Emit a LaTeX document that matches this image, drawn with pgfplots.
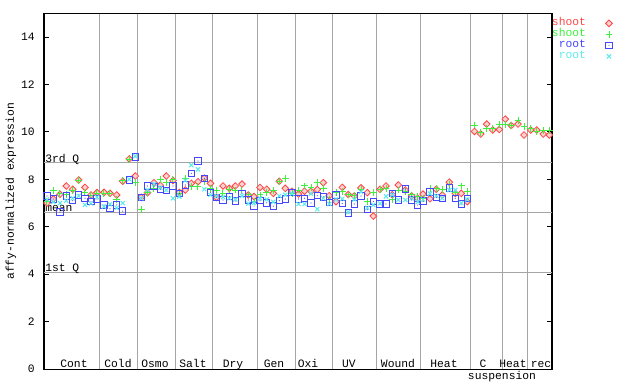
\documentclass[border=0pt]{standalone}
\usepackage{fontspec}
\setmainfont{Liberation Mono}
\usepackage{pgfplots}
\pgfplotsset{compat=1.18}
\usepackage{pgfplotstable}

\definecolor{cr}{RGB}{255,70,70}
\definecolor{cg}{RGB}{60,240,60}
\definecolor{cb}{RGB}{70,70,255}
\definecolor{cc}{RGB}{90,235,235}
\definecolor{gl}{RGB}{165,165,165}

\pgfdeclareplotmark{sqdot}{%
  \pgfpathrectangle{\pgfqpoint{-\pgfplotmarksize}{-\pgfplotmarksize}}{\pgfqpoint{2\pgfplotmarksize}{2\pgfplotmarksize}}%
  \pgfusepathqstroke
  \pgfpathcircle{\pgfpointorigin}{0.45pt}\pgfusepathqfill}
\pgfdeclareplotmark{dia}{%
  \pgfpathmoveto{\pgfqpoint{0pt}{\pgfplotmarksize}}%
  \pgfpathlineto{\pgfqpoint{\pgfplotmarksize}{0pt}}%
  \pgfpathlineto{\pgfqpoint{0pt}{-\pgfplotmarksize}}%
  \pgfpathlineto{\pgfqpoint{-\pgfplotmarksize}{0pt}}%
  \pgfpathclose
  \pgfusepathqfillstroke}

\pgfplotsset{myleg/.style={legend image code/.code={\path[draw=none,fill=none] (0pt,-0.1pt) rectangle (20pt,0.1pt); \path[##1, draw=none] plot coordinates {(17.25pt,0pt)};}}}

\pgfplotstableread{
x r g b c
47 7.00 7.05 7.30 7.15
53.3 7.17 7.52 7.17 7.05
60 7.37 7.40 6.62 7.00
66.3 7.72 7.35 7.30 7.10
72.7 7.58 7.52 7.10 7.20
78.7 7.97 7.97 7.34 7.30
85 7.66 7.44 7.20 6.92
91 7.34 7.30 7.06 6.98
97 7.44 7.42 7.17 7.25
104 7.45 7.41 6.92 6.85
110 7.41 7.41 6.76 6.95
116.7 7.34 7.15 6.92 6.80
122.7 7.92 7.97 6.66 7.00
129.3 8.86 8.84 7.98 8.00
135.3 8.14 7.86 8.95 8.98
141.3 7.24 6.71 7.24 7.20
147.5 7.44 7.45 7.72 7.55
154 7.86 7.60 7.69 7.80
160.3 7.75 8.00 7.58 7.65
166.3 8.14 7.86 7.52 7.55
173 7.95 8.00 7.72 7.20
179.3 7.45 7.40 7.41 7.27
185.3 7.55 8.04 7.76 7.95
191.3 7.83 7.69 8.25 8.60
198 7.90 7.69 8.77 8.42
204.3 8.05 7.90 8.04 7.58
210.5 7.83 7.62 7.44 7.34
216.5 7.24 7.55 7.24 7.30
223 7.72 7.41 7.13 7.25
229.3 7.62 7.58 7.27 7.20
235.3 7.72 7.55 7.09 7.15
242 7.80 7.55 7.41 7.30
248.3 7.34 7.34 7.13 6.98
254 7.27 7.05 6.87 7.00
260 7.66 7.34 7.10 7.20
266.7 7.58 7.45 7.01 7.15
273.3 7.41 7.52 6.87 7.05
279.3 7.92 7.92 7.10 7.30
285.3 7.62 8.03 7.17 7.35
292 7.50 7.40 7.44 7.40
298.5 7.38 7.55 7.17 6.96
304.5 7.50 7.72 7.20 6.96
311 7.50 7.64 7.00 7.40
317.3 7.57 7.85 7.31 6.74
323.3 7.86 7.62 7.26 7.20
329.3 7.31 7.17 7.02 6.96
336 7.06 7.45 7.34 7.15
342.3 7.66 7.49 6.98 7.18
348.3 7.36 7.34 6.58 6.62
354.3 7.30 7.30 6.96 7.15
361 7.64 7.58 7.30 7.47
367.3 7.44 7.06 6.72 6.80
373.3 6.45 7.44 7.06 6.92
380 7.58 7.58 6.96 6.98
386 7.72 7.62 6.96 7.28
392.3 7.35 7.15 7.41 7.35
398.3 7.76 7.55 7.13 7.13
405.3 7.55 7.50 7.59 7.13
411.7 7.30 7.34 7.13 7.20
417.7 7.20 7.27 6.92 7.05
423 7.38 7.20 7.08 7.15
430 7.18 7.62 7.46 7.40
436.3 7.58 7.62 7.24 7.30
442.3 7.34 7.58 7.20 7.20
449.3 7.88 7.80 7.63 7.55
455.3 7.41 7.45 7.20 7.55
461.3 7.41 7.72 6.96 7.00
467.3 7.06 7.48 7.20 7.15
}\main

\pgfplotstableread{
x r g
474.5 10.02 10.29
480.7 9.91 9.97
486.7 10.33 10.15
492.7 10.08 10.15
499.3 10.10 10.33
505.3 10.54 10.33
511.3 10.27 10.27
518 10.33 10.49
524 9.87 10.22
530.7 10.08 10.15
536.7 10.08 10.01
543.3 9.91 10.06
549.3 9.87 10.06
}\susp

\begin{document}
\begin{tikzpicture}[font=\fontsize{8.5}{10}\selectfont]
\begin{axis}[
  scale only axis, width=381pt, height=266.8pt,
  xmin=44, xmax=552, ymin=0, ymax=15,
  axis line style={black, line width=0.8pt},
  /pgf/number format/assume math mode=true,
  ytick={0,2,4,6,8,10,12,14},
  ytick pos=both, yticklabel pos=left,
  tick align=inside, major tick length=3.75pt,
  tick style={black, line width=0.75pt},
  yticklabel style={anchor=east, inner sep=0pt, xshift=-6.75pt},
  xtick={100,138,176,213,257,295,332,376,420,470,502,527},
  xticklabels={}, xmajorgrids,
  major x tick style={draw=none},
  extra y ticks={4.08,6.61,8.69}, extra y tick labels={},
  extra y tick style={grid=major, major tick length=0pt},
  grid style={gl, line width=0.75pt},
  clip=false,
  ylabel={affy-normalized expression},
  ylabel style={at={(axis description cs:-0.065,0.5)}, anchor=center, rotate=0},
  legend cell align=right,
  legend style={draw=none, fill=none, inner sep=0pt, outer sep=0pt,
    at={(axis description cs:1,1)}, anchor=north east, xshift=45.5pt, yshift=-3.4pt,
    nodes={inner sep=0pt, text height=6pt, text depth=2.25pt}, row sep=0pt,
    font=\fontsize{8.5}{10}\selectfont},
  legend plot pos=right,
]
\addplot[only marks, mark=dia, mark size=2.5pt, mark options={draw=cr, fill=cr!25, line width=0.6pt}, myleg] table[x=x,y=r]{\main};
\addlegendentry[text=cr]{shoot}
\addplot[only marks, mark=+, mark size=2.6pt, mark options={draw=cg, line width=0.75pt}, myleg] table[x=x,y=g]{\main};
\addlegendentry[text=cg]{shoot}
\addplot[only marks, mark=sqdot, mark size=2.4pt, mark options={draw=cb, fill=cb, line width=0.75pt}, myleg] table[x=x,y=b]{\main};
\addlegendentry[text=cb]{root}
\addplot[only marks, mark=x, mark size=2.2pt, mark options={draw=cc, line width=0.75pt}, myleg] table[x=x,y=c]{\main};
\addlegendentry[text=cc]{root}
\addplot[only marks, mark=dia, mark size=2.5pt, mark options={draw=cr, fill=cr!25, line width=0.6pt}, forget plot] table[x=x,y=r]{\susp};
\addplot[only marks, mark=+, mark size=2.6pt, mark options={draw=cg, line width=0.75pt}, forget plot] table[x=x,y=g]{\susp};

\node[anchor=base west, inner sep=0pt] at (axis cs:45,8.73) {3rd Q};
\node[anchor=base west, inner sep=0pt] at (axis cs:45,6.65) {mean};
\node[anchor=base west, inner sep=0pt] at (axis cs:45,4.12) {1st Q};

\node[anchor=base, inner sep=0pt] at (axis cs:74,0.08) {Cont};
\node[anchor=base, inner sep=0pt] at (axis cs:118,0.08) {Cold};
\node[anchor=base, inner sep=0pt] at (axis cs:155,0.08) {Osmo};
\node[anchor=base, inner sep=0pt] at (axis cs:193,0.08) {Salt};
\node[anchor=base, inner sep=0pt] at (axis cs:233,0.08) {Dry};
\node[anchor=base, inner sep=0pt] at (axis cs:274,0.08) {Gen};
\node[anchor=base, inner sep=0pt] at (axis cs:308,0.08) {Oxi};
\node[anchor=base, inner sep=0pt] at (axis cs:349,0.08) {UV};
\node[anchor=base, inner sep=0pt] at (axis cs:398,0.08) {Wound};
\node[anchor=base, inner sep=0pt] at (axis cs:444,0.08) {Heat};
\node[anchor=base, inner sep=0pt] at (axis cs:483,0.08) {C};
\node[anchor=base, inner sep=0pt] at (axis cs:513,0.08) {Heat};
\node[anchor=base, inner sep=0pt] at (axis cs:541,0.08) {rec};
\node[anchor=base, inner sep=0pt] at (axis cs:502,-0.46) {suspension};

\coordinate (ll) at (rel axis cs:0,0);
\coordinate (ur) at (rel axis cs:1,1);
\end{axis}
\pgfresetboundingbox
\path[use as bounding box] ([shift={(-33pt,-11.25pt)}]ll) rectangle ([shift={(66pt,10pt)}]ur);
\end{tikzpicture}
\end{document}
